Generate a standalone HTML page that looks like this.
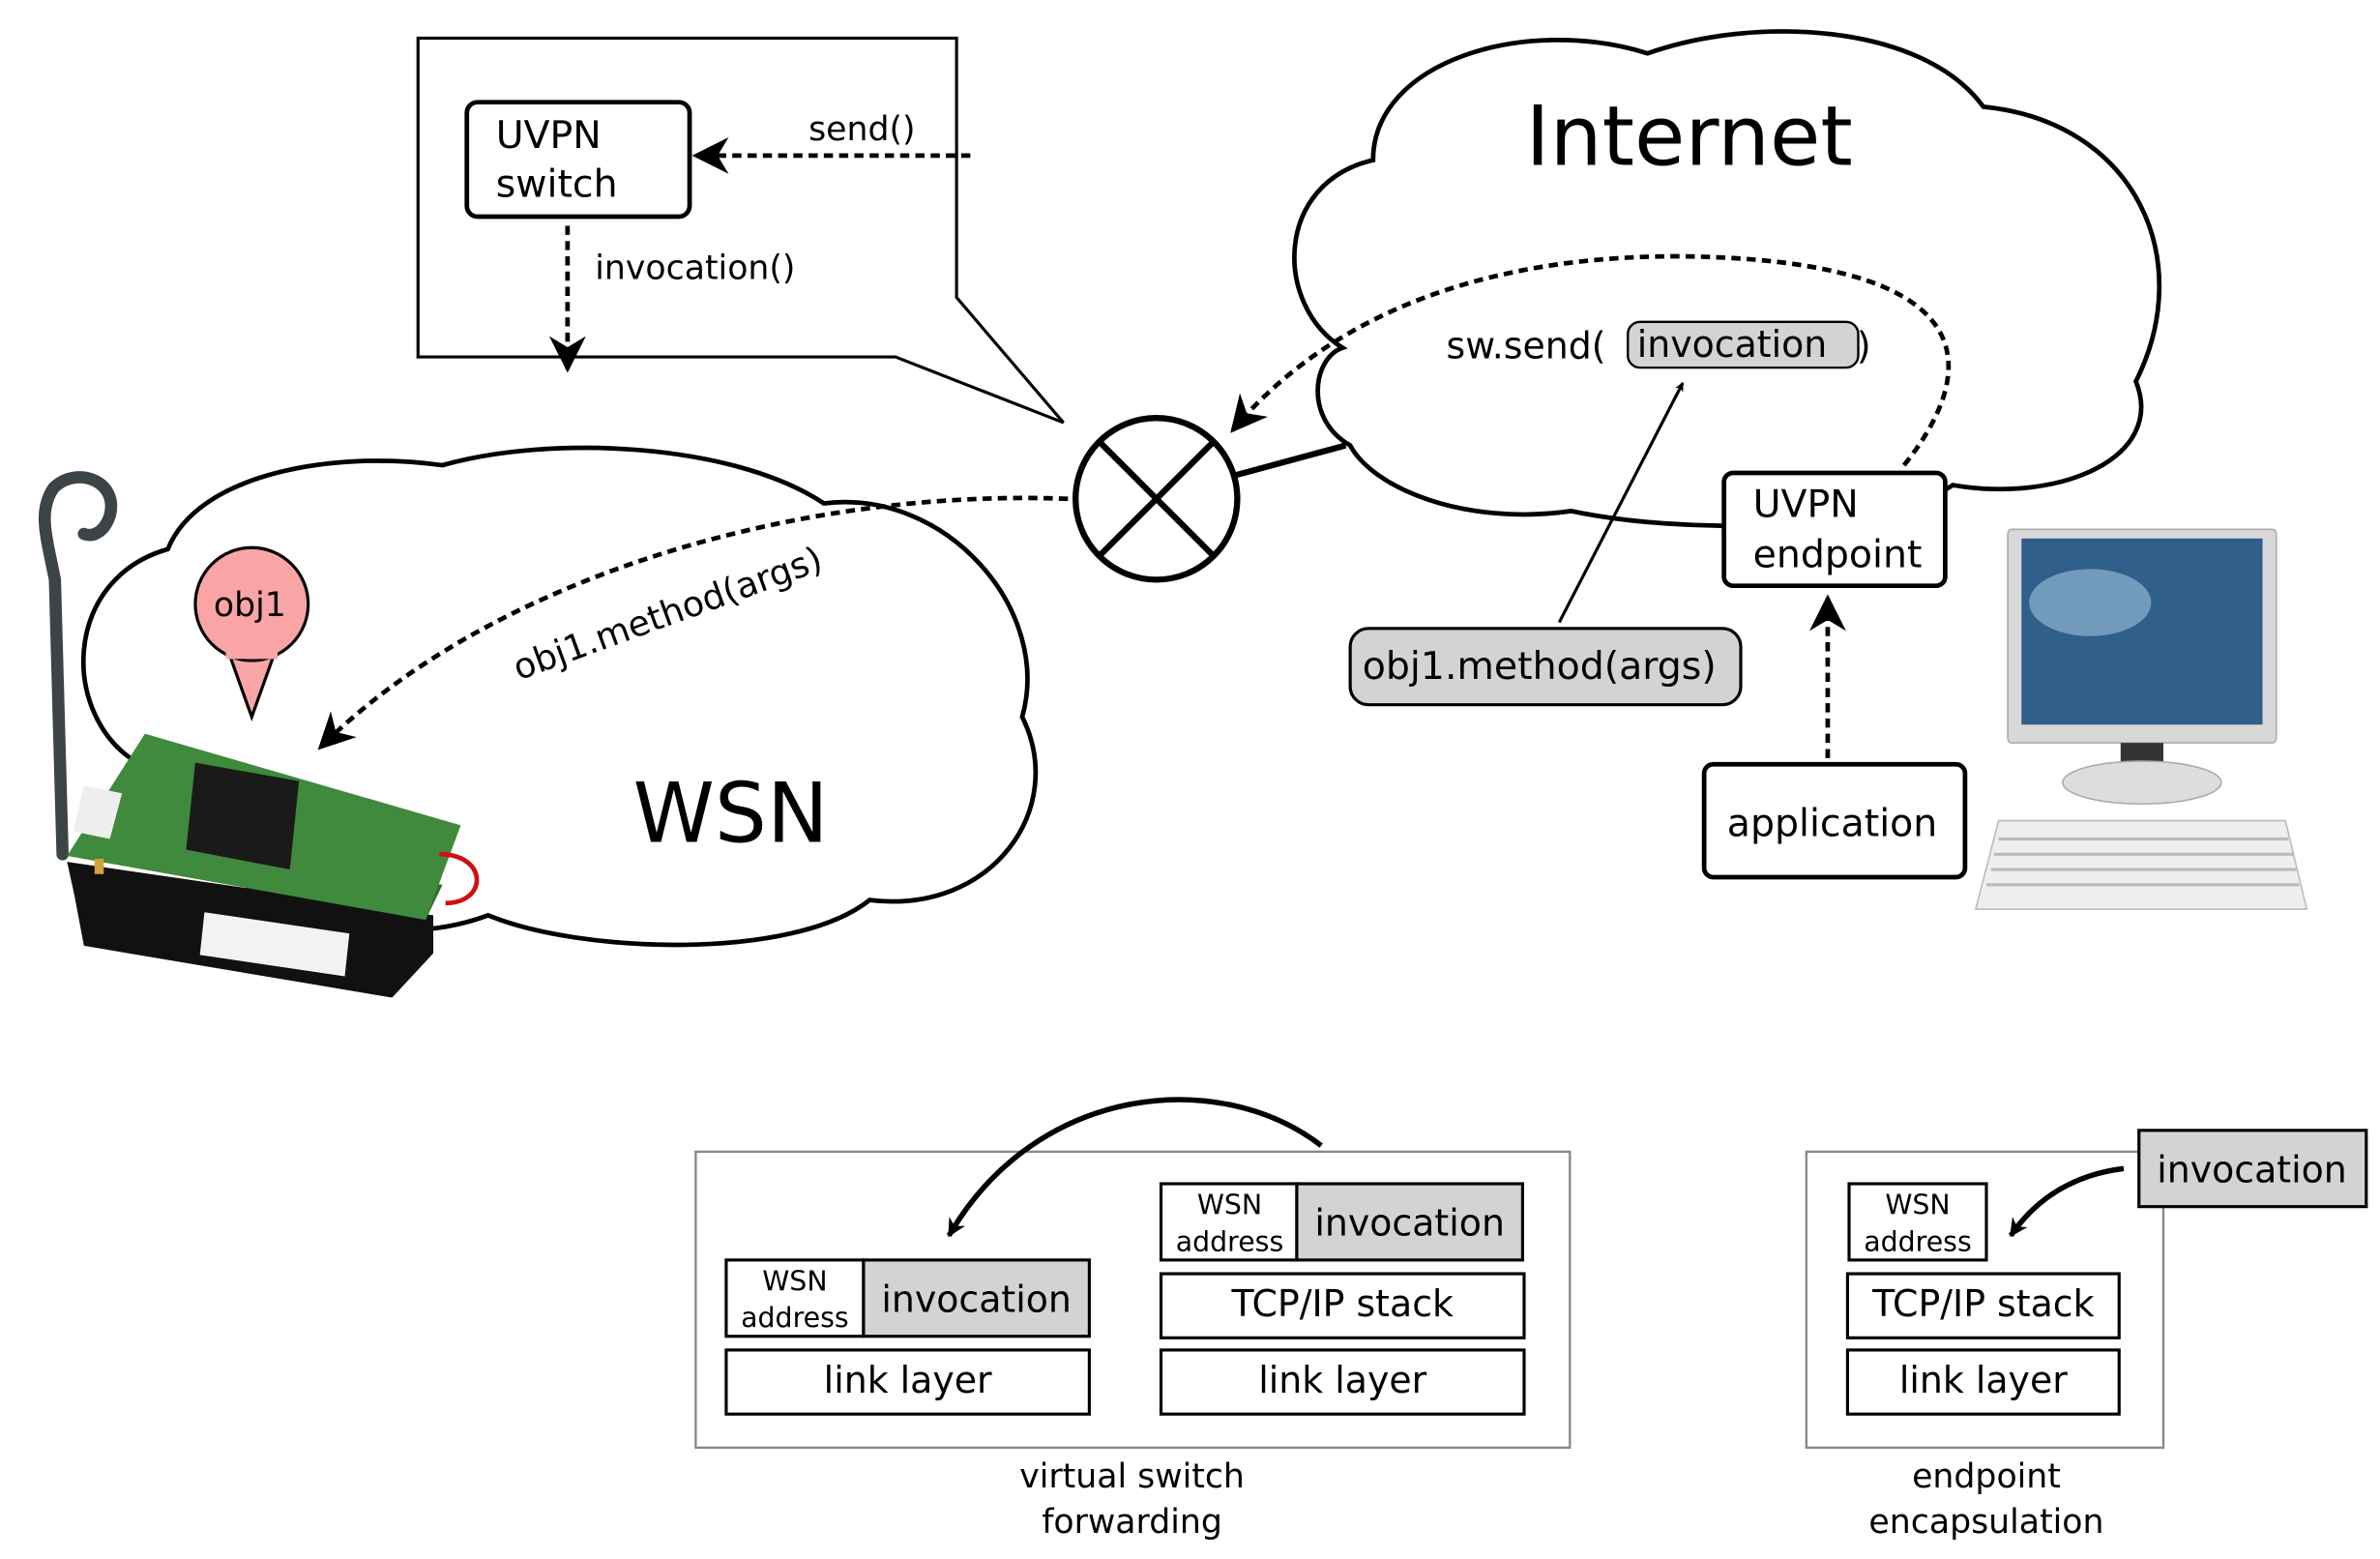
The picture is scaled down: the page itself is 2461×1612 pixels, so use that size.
<!DOCTYPE html>
<html><head><meta charset="utf-8"><style>
html,body{margin:0;padding:0;background:#fff;}
svg{display:block;}
text{font-family:"DejaVu Sans","Liberation Sans",sans-serif;fill:#000;}
</style></head><body>
<svg width="2461" height="1612" viewBox="0 0 1560 1022" preserveAspectRatio="none" xmlns="http://www.w3.org/2000/svg">
<defs>
<marker id="ah" viewBox="0 0 10 10" refX="9" refY="5" markerWidth="6" markerHeight="6" orient="auto" markerUnits="userSpaceOnUse">
<path d="M0,0 L10,5 L0,10 L3,5 Z" fill="#000"/></marker>
<marker id="ahb" viewBox="0 0 10 10" refX="9" refY="5" markerWidth="8" markerHeight="8" orient="auto">
<path d="M0,0 L10,5 L0,10 L3,5 Z" fill="#000"/></marker>
<marker id="ahs" viewBox="0 0 10 10" refX="9" refY="5" markerWidth="12" markerHeight="12" orient="auto" markerUnits="userSpaceOnUse">
<path d="M0,0 L10,5 L0,10 L3,5 Z" fill="#000"/></marker>
</defs>

<!-- callout -->
<path d="M274,25 L627,25 L627,195 L697,277 L587,234 L274,234 Z" fill="#fff" stroke="#000" stroke-width="2"/>
<rect x="306" y="67" width="146" height="75" rx="7" fill="#fff" stroke="#000" stroke-width="3"/>
<text x="325" y="97" font-size="25">UVPN</text>
<text x="325" y="129" font-size="25">switch</text>
<line x1="636" y1="102" x2="456" y2="102" stroke="#000" stroke-width="3" stroke-dasharray="6,4" marker-end="url(#ahb)"/>
<text x="530" y="92" font-size="22">send()</text>
<line x1="372" y1="148" x2="372" y2="242" stroke="#000" stroke-width="3" stroke-dasharray="6,4" marker-end="url(#ahb)"/>
<text x="390" y="183" font-size="22">invocation()</text>

<!-- Internet cloud -->
<path d="M885,292 C855,275 860,235 880,228 C835,200 835,120 900,105 C900,40 1000,10 1080,35 C1150,10 1260,15 1300,70 C1400,80 1440,170 1400,250 C1420,300 1350,330 1280,318 C1230,350 1100,350 1030,335 C960,345 900,320 885,292 Z" fill="#fff" stroke="#000" stroke-width="3"/>
<text x="1000" y="108" font-size="54">Internet</text>

<!-- WSN cloud -->
<path d="M90,500 C40,470 40,380 110,360 C130,310 220,295 290,305 C360,285 480,290 540,330 C620,320 690,400 670,470 C700,530 650,600 570,590 C520,630 380,625 320,600 C240,630 130,590 90,500 Z" fill="#fff" stroke="#000" stroke-width="3"/>
<text x="415" y="552" font-size="54">WSN</text>

<!-- connector circle -->
<line x1="808" y1="312" x2="882" y2="292" stroke="#000" stroke-width="4"/>
<circle cx="758" cy="327" r="53" fill="#fff" stroke="#000" stroke-width="4"/>
<line x1="721" y1="290" x2="795" y2="364" stroke="#000" stroke-width="4"/>
<line x1="795" y1="290" x2="721" y2="364" stroke="#000" stroke-width="4"/>

<!-- dashed curves -->
<path d="M700,327 C520,320 320,380 210,490" fill="none" stroke="#000" stroke-width="3" stroke-dasharray="6,4" marker-end="url(#ahb)"/>
<text x="0" y="0" font-size="23" transform="translate(340,446) rotate(-20)">obj1.method(args)</text>
<path d="M1248,305 C1300,240 1300,170 1100,168 C950,168 860,220 808,282" fill="none" stroke="#000" stroke-width="3" stroke-dasharray="6,4" marker-end="url(#ahb)"/>
<text x="948" y="235" font-size="24">sw.send(</text>
<rect x="1067" y="211" width="151" height="30" rx="8" fill="#d3d3d3" stroke="#000" stroke-width="1.5"/>
<text x="1073" y="234" font-size="24">invocation</text>
<text x="1217" y="235" font-size="24">)</text>
<line x1="1022" y1="408" x2="1103" y2="251" stroke="#000" stroke-width="2" marker-end="url(#ah)"/>
<rect x="885" y="412" width="256" height="50" rx="12" fill="#d3d3d3" stroke="#000" stroke-width="2"/>
<text x="893" y="445" font-size="25">obj1.method(args)</text>

<rect x="1130" y="310" width="145" height="74" rx="6" fill="#fff" stroke="#000" stroke-width="3"/>
<text x="1149" y="339" font-size="25">UVPN</text>
<text x="1149" y="372" font-size="25">endpoint</text>
<line x1="1198" y1="497" x2="1198" y2="392" stroke="#000" stroke-width="3" stroke-dasharray="6,4" marker-end="url(#ahb)"/>
<rect x="1117" y="501" width="171" height="74" rx="6" fill="#fff" stroke="#000" stroke-width="3"/>
<text x="1132" y="548" font-size="25">application</text>

<!-- computer -->
<rect x="1316" y="347" width="176" height="140" rx="3" fill="#d8d8d8" stroke="#aaa"/>
<rect x="1325" y="353" width="158" height="122" fill="#2f5f8a"/>
<ellipse cx="1370" cy="395" rx="40" ry="22" fill="#8fb3d0" opacity="0.7"/>
<rect x="1390" y="487" width="28" height="18" fill="#333"/>
<ellipse cx="1404" cy="513" rx="52" ry="14" fill="#ddd" stroke="#aaa"/>
<path d="M1310,538 L1498,538 L1512,596 L1295,596 Z" fill="#eee" stroke="#bbb"/>
<g stroke="#bbb" stroke-width="2"><line x1="1310" y1="550" x2="1500" y2="550"/><line x1="1307" y1="560" x2="1503" y2="560"/><line x1="1305" y1="570" x2="1505" y2="570"/><line x1="1302" y1="580" x2="1507" y2="580"/></g>

<!-- sensor -->
<path d="M41,560 L36,380 C30,350 25,335 35,320 C50,305 78,315 72,338 C68,350 60,352 55,350" fill="none" stroke="#3c4448" stroke-width="8" stroke-linecap="round"/>
<path d="M49,588 L44,565 L284,600 L284,625 L257,654 L55,620 Z" fill="#111"/>
<path d="M134,598 L229,612 L226,640 L131,626 Z" fill="#f2f2f2"/>
<path d="M44,561 L60,545 L290,580 L279,603 Z" fill="#2f6b2c"/>
<path d="M95,481 L302,541 L279,603 L44,561 Z" fill="#3f8a3c"/>
<path d="M128,500 L196,512 L190,570 L122,557 Z" fill="#1a1a1a"/>
<path d="M55,515 L80,520 L72,550 L48,545 Z" fill="#eee"/>
<rect x="62" y="563" width="6" height="10" fill="#d4a040"/>
<path d="M288,560 C320,560 320,592 292,592" fill="none" stroke="#d01010" stroke-width="3"/>

<!-- obj1 pin -->
<path d="M150,428 L165,470 L180,428 Z" fill="#f9a5a5" stroke="#000" stroke-width="2"/>
<circle cx="165" cy="396" r="37" fill="#f9a5a5" stroke="#000" stroke-width="2"/>
<rect x="148" y="420" width="34" height="12" fill="#f9a5a5"/>
<text x="140" y="404" font-size="22">obj1</text>

<!-- bottom left group -->
<rect x="456" y="755" width="573" height="194" fill="#fff" stroke="#888" stroke-width="1.5"/>
<rect x="476" y="826" width="90" height="50" fill="#fff" stroke="#000" stroke-width="2"/>
<text x="521" y="846" font-size="18" text-anchor="middle">WSN</text>
<text x="521" y="870" font-size="18" text-anchor="middle">address</text>
<rect x="566" y="826" width="148" height="50" fill="#d3d3d3" stroke="#000" stroke-width="2"/>
<text x="640" y="860" font-size="24" text-anchor="middle">invocation</text>
<rect x="476" y="885" width="238" height="42" fill="#fff" stroke="#000" stroke-width="2"/>
<text x="595" y="913" font-size="24" text-anchor="middle">link layer</text>
<rect x="761" y="776" width="89" height="50" fill="#fff" stroke="#000" stroke-width="2"/>
<text x="806" y="796" font-size="18" text-anchor="middle">WSN</text>
<text x="806" y="820" font-size="18" text-anchor="middle">address</text>
<rect x="850" y="776" width="148" height="50" fill="#d3d3d3" stroke="#000" stroke-width="2"/>
<text x="924" y="810" font-size="24" text-anchor="middle">invocation</text>
<rect x="761" y="835" width="238" height="42" fill="#fff" stroke="#000" stroke-width="2"/>
<text x="880" y="863" font-size="24" text-anchor="middle">TCP/IP stack</text>
<rect x="761" y="885" width="238" height="42" fill="#fff" stroke="#000" stroke-width="2"/>
<text x="880" y="913" font-size="24" text-anchor="middle">link layer</text>
<path d="M866,751 C800,700 680,710 622,810" fill="none" stroke="#000" stroke-width="3.5" marker-end="url(#ahs)"/>
<text x="742" y="975" font-size="22" text-anchor="middle">virtual switch</text>
<text x="742" y="1005" font-size="22" text-anchor="middle">forwarding</text>

<!-- bottom right group -->
<rect x="1184" y="755" width="234" height="194" fill="#fff" stroke="#888" stroke-width="1.5"/>
<rect x="1212" y="776" width="90" height="50" fill="#fff" stroke="#000" stroke-width="2"/>
<text x="1257" y="796" font-size="18" text-anchor="middle">WSN</text>
<text x="1257" y="820" font-size="18" text-anchor="middle">address</text>
<rect x="1211" y="835" width="178" height="42" fill="#fff" stroke="#000" stroke-width="2"/>
<text x="1300" y="863" font-size="24" text-anchor="middle">TCP/IP stack</text>
<rect x="1211" y="885" width="178" height="42" fill="#fff" stroke="#000" stroke-width="2"/>
<text x="1300" y="913" font-size="24" text-anchor="middle">link layer</text>
<rect x="1402" y="741" width="149" height="50" fill="#d3d3d3" stroke="#000" stroke-width="2"/>
<text x="1476" y="775" font-size="24" text-anchor="middle">invocation</text>
<path d="M1392,766 C1360,770 1335,785 1318,810" fill="none" stroke="#000" stroke-width="3.5" marker-end="url(#ahs)"/>
<text x="1302" y="975" font-size="22" text-anchor="middle">endpoint</text>
<text x="1302" y="1005" font-size="22" text-anchor="middle">encapsulation</text>
</svg>
</body></html>
